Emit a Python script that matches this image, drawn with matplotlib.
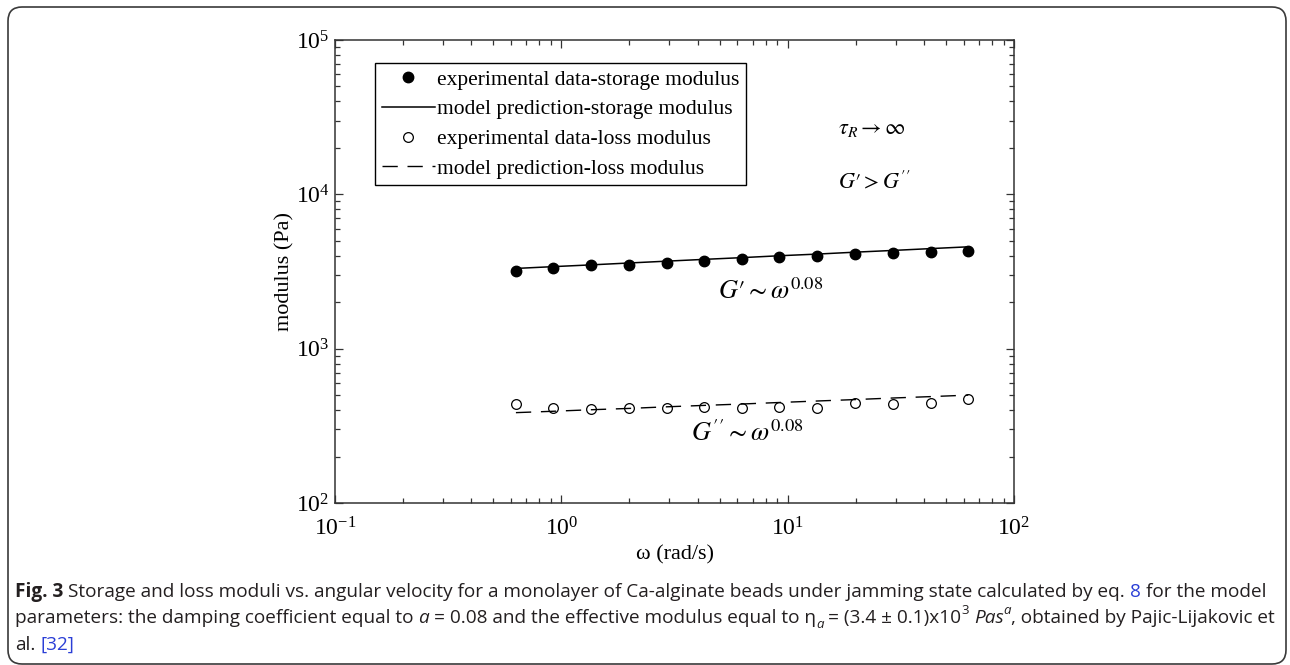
import numpy as np
import matplotlib
matplotlib.use("Agg")
import matplotlib.pyplot as plt
from matplotlib import font_manager
from matplotlib.patches import FancyBboxPatch
from matplotlib.ticker import FuncFormatter, NullFormatter

# data
omega = [0.63, 0.92, 1.35, 1.99, 2.92, 4.28, 6.3, 9.2, 13.5, 19.9, 29.2, 42.8, 62.8]
g_storage_exp = [3200, 3310, 3470, 3500, 3600, 3700, 3800, 3910, 3990, 4100, 4150, 4230, 4310]
g_storage_model = [3310, 3400, 3490, 3590, 3690, 3790, 3890, 4000, 4100, 4220, 4330, 4450, 4570]
g_loss_exp = [436, 414, 406, 414, 410, 420, 414, 420, 414, 442, 438, 446, 469]
g_loss_model = [385, 393, 402, 410, 420, 429, 438, 448, 458, 468, 479, 489, 500]

legend_labels = [
    "experimental data-storage modulus",
    "model prediction-storage modulus",
    "experimental data-loss modulus",
    "model prediction-loss modulus",
]

plt.rcParams["font.family"] = "Liberation Serif"
plt.rcParams["mathtext.fontset"] = "custom"
plt.rcParams["mathtext.rm"] = "Liberation Serif"
plt.rcParams["mathtext.it"] = "Liberation Serif:italic"

W, H = 1290, 665
fig = plt.figure(figsize=(W / 100, H / 100), dpi=100)
ax = fig.add_axes([335 / W, 1 - 503 / H, 679 / W, 463 / H])

ax.plot(omega, g_storage_exp, "o", color="black", ms=7.5, label=legend_labels[0])
ax.plot(omega, g_storage_model, "-", color="black", lw=1.1, label=legend_labels[1])
ax.plot(omega, g_loss_exp, "o", mfc="white", mec="black", mew=0.9, ms=7, label=legend_labels[2])
ax.plot(omega, g_loss_model, color="black", lw=1.0, dashes=(11, 7), label=legend_labels[3])

ax.set_xscale("log")
ax.set_yscale("log")
ax.set_xlim(0.1, 100)
ax.set_ylim(100, 1e5)

fmt = FuncFormatter(lambda v, p: r"$\mathregular{10^{%d}}$" % round(np.log10(v)))
ax.xaxis.set_major_formatter(fmt)
ax.yaxis.set_major_formatter(fmt)
ax.xaxis.set_minor_formatter(NullFormatter())
ax.yaxis.set_minor_formatter(NullFormatter())
ax.tick_params(which="both", direction="in", top=True, right=True, color="#333333", width=0.9)
ax.tick_params(which="major", length=6, labelsize=17)
ax.tick_params(axis="x", which="major", pad=10)
ax.tick_params(axis="y", which="major", pad=4)
ax.tick_params(which="minor", length=3.5)
for s in ax.spines.values():
    s.set_color("#333333")
    s.set_linewidth(1.1)

ax.set_xlabel("ω (rad/s)", fontsize=16, labelpad=4)
ax.set_ylabel("modulus (Pa)", fontsize=16, labelpad=1)

leg = ax.legend(loc="upper left", bbox_to_anchor=(0.059, 0.950), borderaxespad=0,
                fancybox=False, edgecolor="black", framealpha=1, fontsize=15.5,
                handlelength=2.5, handletextpad=0.1, borderpad=0.3,
                labelspacing=0.45, numpoints=1)
leg.get_frame().set_linewidth(1.0)

ann = dict(transform=ax.transAxes, ha="center", va="center", math_fontfamily="stix")
ax.text(0.791, 0.806, r"$\tau_R \rightarrow \infty$", fontsize=16, **ann)
ax.text(0.794, 0.693, r"$G\prime > G''$", fontsize=16, **ann)
ax.text(0.641, 0.458, r"$G\prime{\sim}\omega^{0.08}$", fontsize=19, **ann)
ax.text(0.607, 0.151, r"$G''{\sim}\omega^{0.08}$", fontsize=19, **ann)

# rounded frame around the whole panel
frame = FancyBboxPatch((8, 1), 1278, 657, boxstyle="round,pad=0,rounding_size=14",
                       transform=None, fill=False, edgecolor="#3a3a3a", lw=1.2)
fig.patches.append(frame)

# caption
names = {f.name for f in font_manager.fontManager.ttflist}
cap_font = "Liberation Sans Narrow" if "Liberation Sans Narrow" in names else "Open Sans"
renderer = fig.canvas.get_renderer()
blue = "#2b3fd6"
ink = "#231f20"

cap_lines = [
    [("Fig. 3", dict(weight="bold")),
     (" Storage and loss moduli vs. angular velocity for a monolayer of Ca-alginate beads "
      "under jamming state calculated by eq. ", {}),
     ("8", dict(color=blue)),
     (" for the model", {})],
    [("parameters: the damping coefficient equal to ", {}),
     ("a", dict(style="italic")),
     (" = 0.08 and the effective modulus equal to η", {}),
     ("a", dict(style="italic", scale=0.7, dy=-0.25)),
     (" = (3.4 ± 0.1)x10", {}),
     ("3", dict(scale=0.7, dy=0.45)),
     (" ", {}),
     ("Pas", dict(style="italic")),
     ("a", dict(style="italic", scale=0.7, dy=0.45)),
     (", obtained by Pajic-Lijakovic et", {})],
    [("al. ", {}), ("[32]", dict(color=blue))],
]


def width_of(s, size, opts):
    t = fig.text(0, 0, s, transform=None, fontsize=size, family=cap_font,
                 fontweight=opts.get("weight", "normal"), fontstyle=opts.get("style", "normal"))
    w = t.get_window_extent(renderer).width
    t.remove()
    return w


def draw_runs(x, y, runs, size):
    arts = []
    for s, opts in runs:
        sz = size * opts.get("scale", 1)
        sp = width_of("x x", sz, opts) - width_of("xx", sz, opts)
        if s.startswith(" "):
            x += sp
        core = s.strip()
        if core:
            t = fig.text(x, y + opts.get("dy", 0) * size * 100 / 72, core, transform=None,
                         ha="left", va="baseline", fontsize=sz, family=cap_font,
                         color=opts.get("color", ink), fontweight=opts.get("weight", "normal"),
                         fontstyle=opts.get("style", "normal"))
            x += t.get_window_extent(renderer).width
            arts.append(t)
        if s.endswith(" ") and core:
            x += sp
    return x, arts


# fit first caption line to its width in the reference
end, arts = draw_runs(15, 68, cap_lines[0], 12)
for a in arts:
    a.remove()
cap_size = 12 * (1262 - 15) / (end - 15)
for line, yb in zip(cap_lines, [68, 42, 15]):
    draw_runs(15, yb, line, cap_size)

fig.savefig("out.png", dpi=100)
